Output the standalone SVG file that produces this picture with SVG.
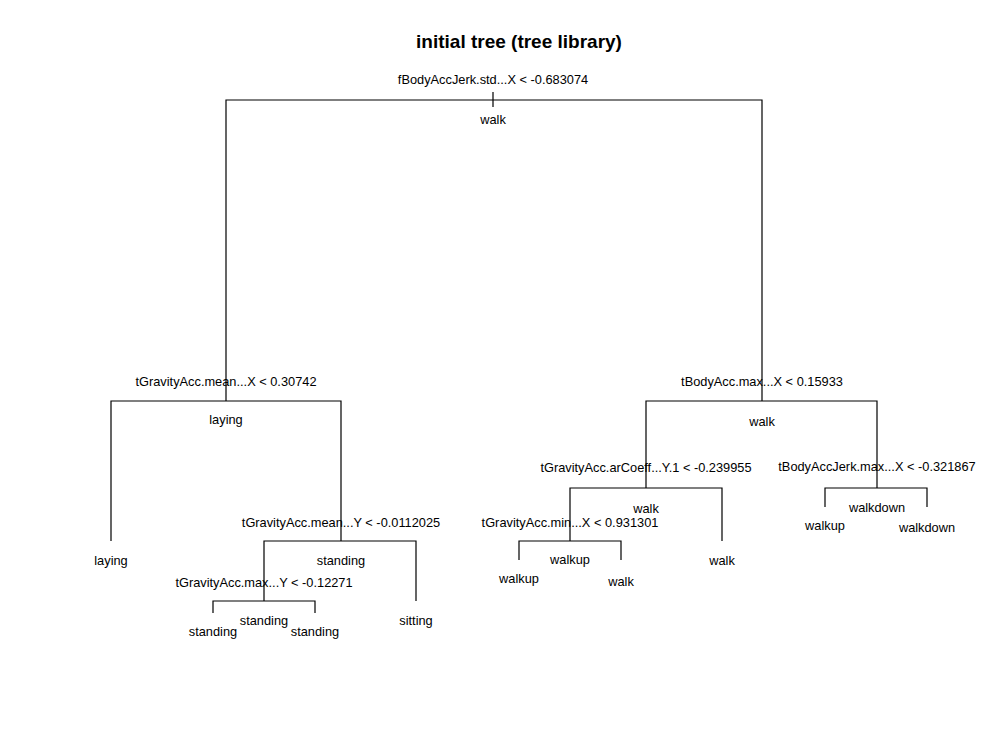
<svg xmlns="http://www.w3.org/2000/svg" width="1000" height="732" viewBox="0 0 1000 732">
<style>
text{font-family:"Liberation Sans",Arial,sans-serif;font-size:12.8px;fill:#000;text-anchor:middle}
.title{font-size:19px;font-weight:bold}
.e{stroke:#000;stroke-width:1.2;fill:none}
</style>
<rect width="1000" height="732" fill="#fff"/>
<text class="title" x="519" y="48">initial tree (tree library)</text>
<g id="connectors">
<path class="e" d="M493,92V107M226,401V100H762V401"/>
<path class="e" d="M111,541V401H341V541"/>
<path class="e" d="M264,601V541H416V601"/>
<path class="e" d="M213,613V601H315V613"/>
<path class="e" d="M646,488V401H877V488"/>
<path class="e" d="M570,541V488H722V541"/>
<path class="e" d="M519,560V541H621V560"/>
<path class="e" d="M825,507V488H927V507"/>
</g>
<g id="n_root"><text x="493" y="84">fBodyAccJerk.std...X &lt; -0.683074</text><text x="493" y="124">walk</text></g>
<g id="n_l"><text x="226" y="386">tGravityAcc.mean...X &lt; 0.30742</text><text x="226" y="424">laying</text></g>
<g id="n_ll"><text x="111" y="565">laying</text></g>
<g id="n_lr"><text x="341" y="527">tGravityAcc.mean...Y &lt; -0.0112025</text><text x="341" y="565">standing</text></g>
<g id="n_lrl"><text x="264" y="587">tGravityAcc.max...Y &lt; -0.12271</text><text x="264" y="625">standing</text></g>
<g id="n_lrll"><text x="213" y="636">standing</text></g>
<g id="n_lrlr"><text x="315" y="636">standing</text></g>
<g id="n_lrr"><text x="416" y="625">sitting</text></g>
<g id="n_r"><text x="762" y="386">tBodyAcc.max...X &lt; 0.15933</text><text x="762" y="426">walk</text></g>
<g id="n_rl"><text x="646" y="472">tGravityAcc.arCoeff...Y.1 &lt; -0.239955</text><text x="646" y="513">walk</text></g>
<g id="n_rll"><text x="570" y="527">tGravityAcc.min...X &lt; 0.931301</text><text x="570" y="564">walkup</text></g>
<g id="n_rlll"><text x="519" y="583">walkup</text></g>
<g id="n_rllr"><text x="621" y="586">walk</text></g>
<g id="n_rlr"><text x="722" y="565">walk</text></g>
<g id="n_rr"><text x="877" y="471">tBodyAccJerk.max...X &lt; -0.321867</text><text x="877" y="512">walkdown</text></g>
<g id="n_rrl"><text x="825" y="530">walkup</text></g>
<g id="n_rrr"><text x="927" y="532">walkdown</text></g>
</svg>
